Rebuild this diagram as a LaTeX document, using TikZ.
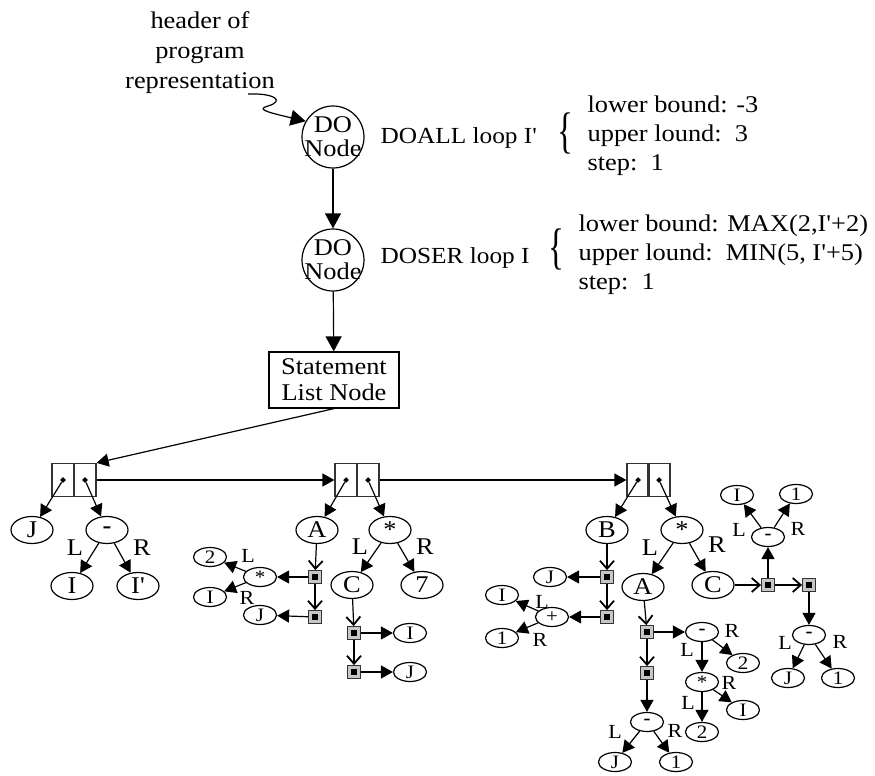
\documentclass[tikz,border=0pt]{standalone}
\usepackage{fontspec}
\setmainfont{Liberation Serif}[Ligatures=TeXOff,FakeStretch=1.1]
\usetikzlibrary{shapes.geometric,arrows.meta}
\tikzset{
    fa/.style={-{Triangle[length=6pt,width=6.5pt]}},
    bigfa/.style={-{Triangle[length=7.5pt,width=8pt]}},
    oa/.style={-{Straight Barb[length=4pt,width=7pt,line width=0.9pt]}},
    bignode/.style={ellipse,draw,minimum width=21pt,minimum height=13.5pt,inner sep=0pt,font=\fontsize{12}{12}\selectfont},
    smallnode/.style={ellipse,draw,minimum width=16.5pt,minimum height=9.5pt,inner sep=0pt,font=\fontsize{9.5}{9.5}\selectfont},
    cellhalf/.style={draw=black!80,minimum width=11pt,minimum height=16.5pt,inner sep=0pt},
    ptrdot/.style={diamond,fill,minimum size=3pt,inner sep=0pt},
    ptrbox/.style={draw=black!80,fill=gray!45,minimum size=6.3pt,inner sep=0pt,
      path picture={\fill[black] ([shift={(-1.6pt,-1.6pt)}]path picture bounding box.center)
        rectangle ([shift={(1.6pt,1.6pt)}]path picture bounding box.center);}},
    donode/.style={circle,draw,minimum size=31pt,inner sep=-3pt,align=center,font=\fontsize{12}{12}\selectfont},
    looptext/.style={anchor=west,inner sep=0pt,font=\fontsize{11.5}{12}\selectfont},
    infotext/.style={anchor=west,align=left,inner sep=0pt,font=\fontsize{12}{14.5}\selectfont},
    bracenode/.style={inner sep=0pt},
    lab/.style={font=\fontsize{12}{12}\selectfont,inner sep=0pt},
    slab/.style={font=\fontsize{10}{10}\selectfont,inner sep=0pt}
}
\newcommand{\bigbrace}{\scalebox{0.6}[1]{\fontsize{25}{25}\selectfont\{}}
\begin{document}
\begin{tikzpicture}[x=0.5pt,y=-0.5pt,line width=0.6pt,font=\fontsize{12}{14.5}\selectfont]
    \useasboundingbox (0,0) rectangle (875,776);
    \node[align=center,font=\fontsize{12}{15}\selectfont] (header) at (200,53) {header of\\program\\representation};
    \node[donode] (do1) at (333,137) {DO\\Node};
    \node[donode] (do2) at (333,260) {DO\\Node};
    \node[draw,minimum width=65pt,minimum height=28pt,inner sep=1pt,align=center,
      font=\fontsize{12}{13}\selectfont] (stmt) at (334,380) {Statement\\List Node};
    \node[looptext] (doall) at (380,138) {DOALL loop I'};
    \node[bracenode] (br1) at (565,133) {\bigbrace};
    \node[infotext] (info1) at (587,136) {lower bound: -3\\upper lound:\ \ 3\\step:\ \ 1};
    \node[looptext] (doser) at (380,258) {DOSER loop I};
    \node[bracenode] (br2) at (556,249) {\bigbrace};
    \node[infotext] (info2) at (578,255) {lower bound: MAX(2,I'+2)\\upper lound:\ \ MIN(5, I'+5)\\step:\ \ 1};
    \coordinate (hdrtail) at (248,94);
    \draw[bigfa] (hdrtail) .. controls (275,93) and (285,101) .. (268,106)
      .. controls (258,109) and (262,111) .. (do1.150);
    \draw[bigfa] (do1) -- (do2);
    \draw[bigfa] (do2) -- (stmt);
    % first statement
    \node[cellhalf] (c1a) at (63,480) {};
    \node[cellhalf] (c1b) at (85,480) {};
    \node[ptrdot] (d1a) at (c1a) {};
    \node[ptrdot] (d1b) at (c1b) {};
    \draw[fa] (stmt.south) -- (c1b.north east);
    \node[bignode] (j1) at (32,530) {J};
    \node[bignode] (m1) at (107,530) {\textbf{-}};
    \node[bignode] (i1) at (72,586) {I};
    \node[bignode] (ip1) at (138,586) {I'};
    \node[lab] (l1) at (75,548) {L};
    \node[lab] (r1) at (142,548) {R};
    \draw[fa] (d1a) -- (j1);
    \draw[fa] (d1b) -- (m1);
    \draw[fa] (m1) -- (i1);
    \draw[fa] (m1) -- (ip1);
    % second statement
    \node[cellhalf] (c2a) at (346,480) {};
    \node[cellhalf] (c2b) at (368,480) {};
    \node[ptrdot] (d2a) at (c2a) {};
    \node[ptrdot] (d2b) at (c2b) {};
    \draw[fa] (c1b) -- (c2a);
    \node[bignode] (a2) at (317,530) {A};
    \node[bignode] (s2) at (390,530) {*};
    \node[ptrbox] (p2a) at (315,577) {};
    \node[ptrbox] (p2b) at (315,617) {};
    \node[smallnode] (s2s) at (260,577) {*};
    \node[smallnode] (two2) at (210,557) {2};
    \node[smallnode] (i2) at (210,597) {I};
    \node[smallnode] (j2) at (260,615) {J};
    \node[slab] (l2a) at (248,556) {L};
    \node[slab] (r2a) at (247,598) {R};
    \node[bignode] (c2) at (352,585) {C};
    \node[bignode] (seven2) at (422,585) {7};
    \node[lab] (l2b) at (360,547) {L};
    \node[lab] (r2b) at (425,547) {R};
    \node[ptrbox] (p2c) at (354,633) {};
    \node[ptrbox] (p2d) at (354,672) {};
    \node[smallnode] (i2b) at (410,633) {I};
    \node[smallnode] (j2b) at (410,672) {J};
    \draw[fa] (d2a) -- (a2);
    \draw[fa] (d2b) -- (s2);
    \draw[oa] (a2) -- (p2a);
    \draw[oa] (p2a) -- (p2b);
    \draw[fa] (p2a) -- (s2s);
    \draw[fa] (p2b) -- (j2);
    \draw[fa] (s2s) -- (two2);
    \draw[fa] (s2s) -- (i2);
    \draw[fa] (s2) -- (c2);
    \draw[fa] (s2) -- (seven2);
    \draw[oa] (c2) -- (p2c);
    \draw[fa] (p2c) -- (i2b);
    \draw[oa] (p2c) -- (p2d);
    \draw[fa] (p2d) -- (j2b);
    % third statement
    \node[cellhalf] (c3a) at (638,480) {};
    \node[cellhalf] (c3b) at (659,480) {};
    \node[ptrdot] (d3a) at (c3a) {};
    \node[ptrdot] (d3b) at (c3b) {};
    \draw[fa] (c2b) -- (c3a);
    \node[bignode] (b3) at (607,530) {B};
    \node[bignode] (s3) at (682,530) {*};
    \node[ptrbox] (p3a) at (607,577) {};
    \node[ptrbox] (p3b) at (607,617) {};
    \node[smallnode] (j3) at (550,577) {J};
    \node[smallnode] (plus3) at (552,617) {+};
    \node[smallnode] (i3) at (502,595) {I};
    \node[smallnode] (one3) at (502,638) {1};
    \node[slab] (l3a) at (542,602) {L};
    \node[slab] (r3a) at (540,640) {R};
    \node[bignode] (a3) at (643,587) {A};
    \node[bignode] (c3) at (713,585) {C};
    \node[lab] (l3b) at (650,548) {L};
    \node[lab] (r3b) at (717,545) {R};
    \node[ptrbox] (p3c) at (647,632) {};
    \node[ptrbox] (p3d) at (647,673) {};
    \node[smallnode] (m3a) at (702,632) {\textbf{-}};
    \node[smallnode] (two3a) at (743,663) {2};
    \node[smallnode] (s3s) at (702,682) {*};
    \node[smallnode] (two3b) at (702,732) {2};
    \node[smallnode] (i3b) at (743,710) {I};
    \node[slab] (r3c) at (732,631) {R};
    \node[slab] (l3c) at (687,650) {L};
    \node[slab] (r3d) at (729,683) {R};
    \node[slab] (l3d) at (688,703) {L};
    \node[smallnode] (m3b) at (647,722) {\textbf{-}};
    \node[smallnode] (j3b) at (615,762) {J};
    \node[smallnode] (one3b) at (676,762) {1};
    \node[slab] (l3e) at (615,732) {L};
    \node[slab] (r3e) at (675,731) {R};
    \node[ptrbox] (p3e) at (768,585) {};
    \node[ptrbox] (p3f) at (809,585) {};
    \node[smallnode] (m3c) at (768,537) {\textbf{-}};
    \node[smallnode] (i3c) at (737,495) {I};
    \node[smallnode] (one3c) at (796,494) {1};
    \node[slab] (l3f) at (739,530) {L};
    \node[slab] (r3f) at (798,529) {R};
    \node[smallnode] (m3d) at (809,635) {\textbf{-}};
    \node[smallnode] (j3d) at (788,678) {J};
    \node[smallnode] (one3d) at (838,678) {1};
    \node[slab] (l3g) at (785,643) {L};
    \node[slab] (r3g) at (840,642) {R};
    \draw[fa] (d3a) -- (b3);
    \draw[fa] (d3b) -- (s3);
    \draw[oa] (b3) -- (p3a);
    \draw[fa] (p3a) -- (j3);
    \draw[oa] (p3a) -- (p3b);
    \draw[fa] (p3b) -- (plus3);
    \draw[fa] (plus3) -- (i3);
    \draw[fa] (plus3) -- (one3);
    \draw[fa] (s3) -- (a3);
    \draw[fa] (s3) -- (c3);
    \draw[oa] (a3) -- (p3c);
    \draw[fa] (p3c) -- (m3a);
    \draw[fa] (m3a) -- (s3s);
    \draw[fa] (m3a) -- (two3a);
    \draw[fa] (s3s) -- (two3b);
    \draw[fa] (s3s) -- (i3b);
    \draw[oa] (p3c) -- (p3d);
    \draw[fa] (p3d) -- (m3b);
    \draw[fa] (m3b) -- (j3b);
    \draw[fa] (m3b) -- (one3b);
    \draw[oa] (c3) -- (p3e);
    \draw[oa] (p3e) -- (p3f);
    \draw[fa] (p3e) -- (m3c);
    \draw[fa] (m3c) -- (i3c);
    \draw[fa] (m3c) -- (one3c);
    \draw[fa] (p3f) -- (m3d);
    \draw[fa] (m3d) -- (j3d);
    \draw[fa] (m3d) -- (one3d);
\end{tikzpicture}
\end{document}
